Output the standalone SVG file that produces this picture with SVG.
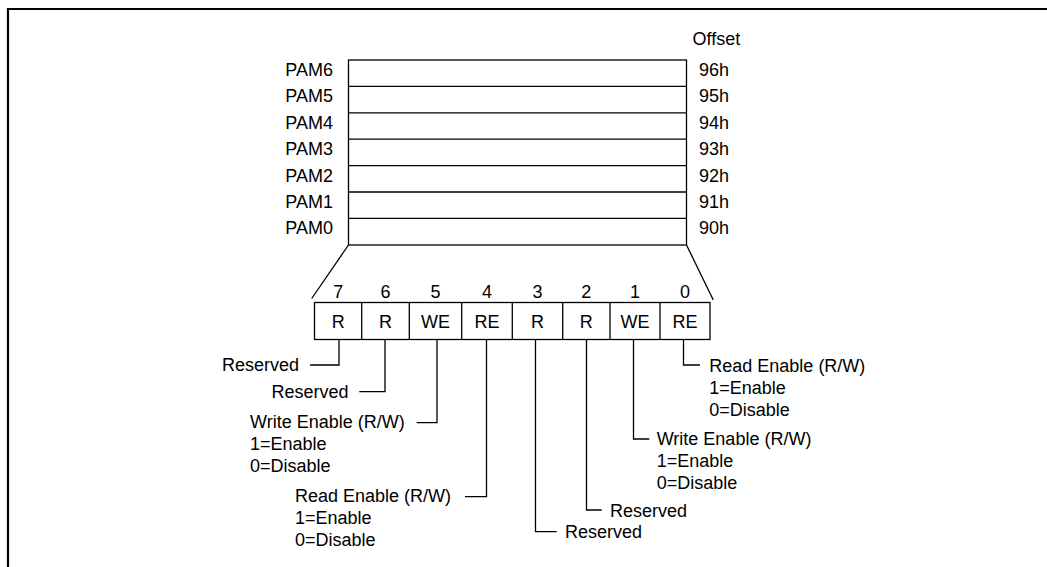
<svg xmlns="http://www.w3.org/2000/svg" width="1047" height="567" viewBox="0 0 1047 567">
<style>
text{font-family:"Liberation Sans",Arial,sans-serif;font-size:18px;fill:#000}
.r{text-anchor:end}
.m{text-anchor:middle}
.box{fill:#fff;stroke:#000;stroke-width:1.3}
.ln{fill:none;stroke:#000;stroke-width:1.3}
</style>
<rect width="1047" height="567" fill="#fff"/>
<g id="frame"><path d="M8,567 V9 H1047" fill="none" stroke="#000" stroke-width="2.2"/></g>
<g id="registers">
<text x="692.5" y="45">Offset</text>
<rect class="box" x="348.5" y="60" width="338" height="185"/>
<path class="ln" d="M348.5,86.4 H686.5 M348.5,112.8 H686.5 M348.5,139.2 H686.5 M348.5,165.6 H686.5 M348.5,192 H686.5 M348.5,218.4 H686.5"/>
<text class="r" x="333" y="76">PAM6</text><text x="699" y="76">96h</text>
<text class="r" x="333" y="102.4">PAM5</text><text x="699" y="102.4">95h</text>
<text class="r" x="333" y="128.8">PAM4</text><text x="699" y="128.8">94h</text>
<text class="r" x="333" y="155.2">PAM3</text><text x="699" y="155.2">93h</text>
<text class="r" x="333" y="181.6">PAM2</text><text x="699" y="181.6">92h</text>
<text class="r" x="333" y="208">PAM1</text><text x="699" y="208">91h</text>
<text class="r" x="333" y="234.4">PAM0</text><text x="699" y="234.4">90h</text>
</g>
<g id="bits">
<rect class="box" x="314.5" y="302.5" width="395.5" height="37"/>
<path class="ln" d="M361.7,302.5 V339.5 M409.3,302.5 V339.5 M461.7,302.5 V339.5 M512.3,302.5 V339.5 M562.7,302.5 V339.5 M610,302.5 V339.5 M660,302.5 V339.5"/>
<text class="m" x="338.3" y="298">7</text>
<text class="m" x="385.5" y="298">6</text>
<text class="m" x="435.5" y="298">5</text>
<text class="m" x="487" y="298">4</text>
<text class="m" x="537.5" y="298">3</text>
<text class="m" x="586.3" y="298">2</text>
<text class="m" x="635" y="298">1</text>
<text class="m" x="685" y="298">0</text>
<text class="m" x="338.3" y="328.3">R</text>
<text class="m" x="385.5" y="328.3">R</text>
<text class="m" x="435.5" y="328.3">WE</text>
<text class="m" x="487" y="328.3">RE</text>
<text class="m" x="537.5" y="328.3">R</text>
<text class="m" x="586.3" y="328.3">R</text>
<text class="m" x="635" y="328.3">WE</text>
<text class="m" x="685" y="328.3">RE</text>
</g>
<g id="connectors">
<path class="ln" d="M348.5,245 L311.7,298.5 M686.5,245 L713.3,300"/>
<path class="ln" d="M339,339.5 V365 H310"/>
<path class="ln" d="M385,339.5 V391.7 H359.3"/>
<path class="ln" d="M437,339.5 V422.7 H416.7"/>
<path class="ln" d="M486.5,339.5 V496.7 H465"/>
<path class="ln" d="M535.5,339.5 V531.7 H556.7"/>
<path class="ln" d="M586.5,339.5 V510 H601.7"/>
<path class="ln" d="M633.5,339.5 V439 H649.3"/>
<path class="ln" d="M683.5,339.5 V365 H700"/>
</g>
<g id="labels">
<text class="r" x="299" y="370.7">Reserved</text>
<text class="r" x="348.5" y="397.7">Reserved</text>
<text x="250" y="427.5">Write Enable (R/W)</text>
<text x="250" y="450">1=Enable</text>
<text x="250" y="472">0=Disable</text>
<text x="295" y="501.7">Read Enable (R/W)</text>
<text x="295" y="523.5">1=Enable</text>
<text x="295" y="545.5">0=Disable</text>
<text x="565" y="538.3">Reserved</text>
<text x="610" y="516.7">Reserved</text>
<text x="656.7" y="445">Write Enable (R/W)</text>
<text x="656.7" y="467">1=Enable</text>
<text x="656.7" y="489">0=Disable</text>
<text x="709.3" y="371.7">Read Enable (R/W)</text>
<text x="709.3" y="393.5">1=Enable</text>
<text x="709.3" y="415.5">0=Disable</text>
</g>
</svg>
